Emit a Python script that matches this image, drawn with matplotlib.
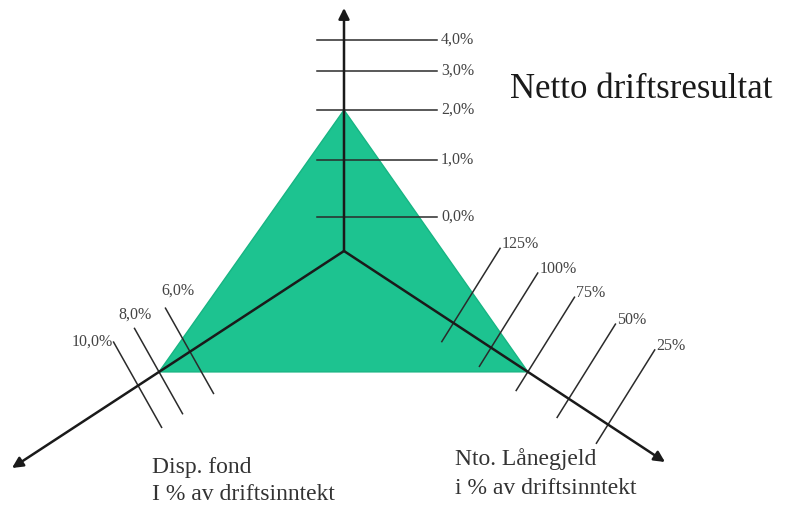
import matplotlib.pyplot as plt
from matplotlib.patches import Polygon
import numpy as np

# Data
netto_ticks = [0.0, 1.0, 2.0, 3.0, 4.0]
netto_labels = ['0,0%', '1,0%', '2,0%', '3,0%', '4,0%']
netto_value = 2.0

fond_ticks = [10.0, 8.0, 6.0]
fond_labels = ['10,0%', '8,0%', '6,0%']
fond_value = 8.0

laan_ticks = [125, 100, 75, 50, 25]
laan_labels = ['125%', '100%', '75%', '50%', '25%']
laan_value = 75

# Layout (pixel space, y down)
W, H = 791, 512
center = np.array([344.0, 251.0])
netto_r = [34, 91, 141, 180, 211]
fond_r = [246, 221, 184]
laan_r = [131, 176, 220, 269, 316]

dir_up = np.array([0.0, -1.0])
dir_ll = np.array([-332.0, 217.0]); dir_ll /= np.linalg.norm(dir_ll)
dir_lr = np.array([321.0, 211.0]); dir_lr /= np.linalg.norm(dir_lr)
tips = [(344, 8), (12, 468), (665, 462)]

green = '#1dc390'
serif = 'Liberation Serif'


def scale(value, ticks, radii):
    order = np.argsort(ticks)
    return np.interp(value, np.array(ticks)[order], np.array(radii)[order])


fig = plt.figure(figsize=(W / 100, H / 100), dpi=100)
ax = fig.add_axes([0, 0, 1, 1])
ax.set_xlim(0, W)
ax.set_ylim(H, 0)
ax.axis('off')

# Triangle
p_up = center + dir_up * scale(netto_value, netto_ticks, netto_r)
p_ll = center + dir_ll * scale(fond_value, fond_ticks, fond_r)
p_lr = center + dir_lr * scale(laan_value, laan_ticks, laan_r)
tri = Polygon([p_up, p_ll, p_lr], closed=True, facecolor=green,
              edgecolor='#17b583', linewidth=1.0, zorder=1)
ax.add_patch(tri)

tick_kw = dict(color='#2b2b2b', lw=1.1, zorder=2)
lab_kw = dict(fontsize=11.5, family=serif, color='#444444', zorder=4)

# Netto driftsresultat ticks (horizontal)
for t, lab in zip(netto_ticks, netto_labels):
    r = scale(t, netto_ticks, netto_r)
    y = center[1] - r
    ax.plot([center[0] - 27, center[0] + 93], [y, y], **tick_kw)
    ax.text(center[0] + 97, y, lab, ha='left', va='center', **lab_kw)

# Disp. fond ticks
up_ll = np.array([-0.49, -0.87])
fond_off = [((-1, 0), 'right', 'center'), ((0, -6), 'center', 'bottom'),
            ((12, -10), 'center', 'bottom')]
for t, lab, (off, ha, va) in zip(fond_ticks, fond_labels, fond_off):
    p = center + dir_ll * scale(t, fond_ticks, fond_r)
    a = p + up_ll * 50
    b = p - up_ll * 48
    ax.plot([a[0], b[0]], [a[1], b[1]], **tick_kw)
    ax.text(a[0] + off[0], a[1] + off[1], lab, ha=ha, va=va, **lab_kw)

# Lånegjeld ticks
up_lr = np.array([0.53, -0.848])
for t, lab in zip(laan_ticks, laan_labels):
    p = center + dir_lr * scale(t, laan_ticks, laan_r)
    a = p + up_lr * 88
    b = p - up_lr * 22
    ax.plot([a[0], b[0]], [a[1], b[1]], **tick_kw)
    ax.text(a[0] + 2, a[1] + 4, lab, ha='left', va='bottom', **lab_kw)

# Axes with arrows
for tip in tips:
    ax.annotate('', xy=tip, xytext=tuple(center),
                arrowprops=dict(arrowstyle='-|>', lw=1.8, color='#1a1a1a',
                                mutation_scale=16, shrinkA=0, shrinkB=0),
                zorder=3)

# Titles
ax.text(510, 90, 'Netto driftsresultat', ha='left', va='center',
        fontsize=25, family=serif, color='#1a1a1a')
ax.text(152, 468, 'Disp. fond', ha='left', va='center',
        fontsize=17, family=serif, color='#333333')
ax.text(152, 494, 'I % av driftsinntekt', ha='left', va='center',
        fontsize=17, family=serif, color='#333333')
ax.text(455, 459, 'Nto. Lånegjeld', ha='left', va='center',
        fontsize=17, family=serif, color='#333333')
ax.text(455, 489, 'i % av driftsinntekt', ha='left', va='center',
        fontsize=17, family=serif, color='#333333')

fig.savefig('out.png', dpi=100, facecolor='white')
